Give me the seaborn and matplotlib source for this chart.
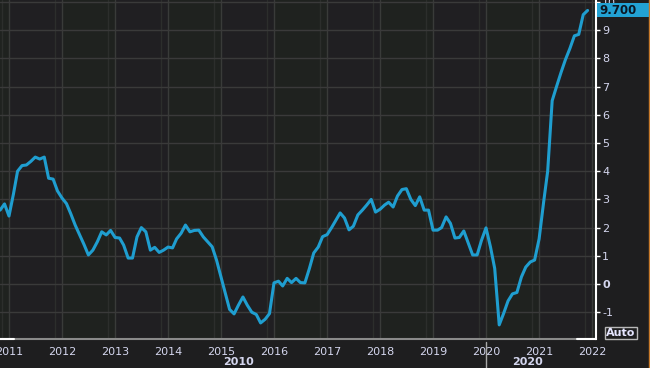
import numpy as np
import pandas as pd
import matplotlib
matplotlib.use("Agg")
import matplotlib.pyplot as plt
import matplotlib.dates as mdates
import matplotlib.transforms as mtransforms
from matplotlib.patches import Rectangle
import seaborn as sns

# ---- data (monthly, Nov 2010 - Dec 2021) ----
start_month = "2010-11-01"
values = [
    2.62, 2.84, 2.41, 3.2, 4.0, 4.2, 4.22, 4.35, 4.5, 4.43, 4.5, 3.75,
    3.72, 3.3, 3.05, 2.85, 2.5, 2.09, 1.75, 1.4, 1.03, 1.2, 1.5, 1.85,
    1.74, 1.9, 1.65, 1.63, 1.38, 0.92, 0.92, 1.67, 2.0, 1.85, 1.2, 1.3,
    1.12, 1.2, 1.31, 1.28, 1.6, 1.8, 2.09, 1.85, 1.9, 1.91, 1.67, 1.5,
    1.32, 0.85, 0.25, -0.35, -0.9, -1.06, -0.75, -0.46, -0.75, -1.0, -1.08, -1.38,
    -1.25, -1.05, 0.04, 0.1, -0.07, 0.2, 0.05, 0.2, 0.05, 0.04, 0.55, 1.1,
    1.31, 1.68, 1.75, 2.0, 2.25, 2.52, 2.34, 1.92, 2.05, 2.45, 2.62, 2.8,
    3.0, 2.55, 2.65, 2.8, 2.9, 2.73, 3.12, 3.35, 3.38, 3.0, 2.78, 3.09,
    2.62, 2.62, 1.91, 1.91, 2.0, 2.38, 2.15, 1.63, 1.65, 1.88, 1.45, 1.03,
    1.03, 1.55, 1.99, 1.31, 0.55, -1.45, -1.05, -0.6, -0.35, -0.3, 0.25, 0.6,
    0.78, 0.85, 1.6, 2.9, 4.0, 6.5, 7.0, 7.5, 7.95, 8.35, 8.8, 8.85,
    9.55, 9.7,
]
year_ticks = list(range(2011, 2023))
y_ticks = list(range(-1, 11))
decade_labels = ["2010", "2020"]

dates = pd.date_range(start_month, periods=len(values), freq="MS")
df = pd.DataFrame({"date": dates, "value": values})

# ---- style ----
sns.set_theme(style="dark")
plt.rcParams["font.family"] = ["DejaVu Sans"]

W, H = 650, 368
fig = plt.figure(figsize=(W / 100, H / 100), dpi=100)
fig.patch.set_facecolor("#1e1e1f")
ax = fig.add_axes([0, 29 / H, 596 / W, 339 / H])
ax.set_facecolor("#1f221f")

txt_col = "#d4d6ee"

# subtle alternating year bands
for yr in range(2010, 2023):
    col = "#201f22" if yr % 2 == 1 else "#1f221f"
    ax.axvspan(pd.Timestamp(f"{yr}-01-01"), pd.Timestamp(f"{yr + 1}-01-01"),
               color=col, zorder=0, lw=0)

# grid
for yr in range(2010, 2023):
    ax.axvline(pd.Timestamp(f"{yr}-01-01"), color="#393b39", lw=1.0, zorder=1)
    ax.axvline(pd.Timestamp(f"{yr - 1}-11-15"), color="#2c2e2c", lw=1.0, zorder=1)
for v in y_ticks:
    ax.axhline(v, color="#3a3a3a", lw=1.0, zorder=1)

sns.lineplot(data=df, x="date", y="value", ax=ax, color="#1f9ed0",
             lw=2.2, zorder=3, legend=False)

ax.set_xlim(pd.Timestamp("2010-10-31"), pd.Timestamp("2022-01-28"))
ax.set_ylim(-1.95, 10.07)
ax.set_xlabel("")
ax.set_ylabel("")

ax.set_xticks([pd.Timestamp(f"{y}-01-01") for y in year_ticks])
ax.xaxis.set_major_formatter(mdates.DateFormatter("%Y"))
ax.yaxis.tick_right()
ax.set_yticks(y_ticks)
ax.set_yticklabels([str(v) for v in y_ticks])
for lab in ax.get_yticklabels():
    if lab.get_text() == "0":
        lab.set_fontweight("bold")

ax.tick_params(axis="x", colors=txt_col, labelsize=8, length=2.5, width=1,
               pad=3, direction="out", color="#9a9a9a")
ax.tick_params(axis="y", colors=txt_col, labelsize=8, length=3, width=1,
               pad=1.5, direction="out", color="white", right=True, left=False)

for s in ["top", "left"]:
    ax.spines[s].set_visible(False)
ax.spines["right"].set_color("white")
ax.spines["right"].set_linewidth(1.5)
ax.spines["bottom"].set_color("#8a8a8a")
ax.spines["bottom"].set_linewidth(1.5)
ax.spines["right"].set_zorder(5)

# white end segments of the bottom axis
ax.plot([0, 14 / 596], [0, 0], transform=ax.transAxes, color="white",
        lw=1.5, clip_on=False, zorder=6)
ax.plot([577 / 596, 1], [0, 0], transform=ax.transAxes, color="white",
        lw=1.5, clip_on=False, zorder=6)

blend = mtransforms.blended_transform_factory(ax.transData, ax.transAxes)
# decade labels and separator
ax.text(pd.Timestamp("2015-05-01"), -29 / 339 + 6 / 339, decade_labels[0],
        transform=blend, ha="center", va="center", fontsize=8,
        fontweight="bold", color=txt_col)
ax.text(pd.Timestamp("2020-10-10"), -29 / 339 + 6 / 339, decade_labels[1],
        transform=blend, ha="center", va="center", fontsize=8,
        fontweight="bold", color=txt_col)
ax.plot([pd.Timestamp("2020-01-01")] * 2, [-3 / 339, -29 / 339],
        transform=blend, color="#a8a8a8", lw=1, clip_on=False)

# last value label
last = values[-1]
blend_y = mtransforms.blended_transform_factory(ax.transAxes, ax.transData)
ax.add_patch(Rectangle((1.0 + 1 / 596, last - 0.25), 54 / 596, 0.5,
                       transform=blend_y, facecolor="#22a2d4",
                       edgecolor="none", clip_on=False, zorder=7))
ax.text(1.0 + 3 / 596, last, f"{last:.3f}", transform=blend_y, ha="left",
        va="center", fontsize=8.5, fontweight="bold", color="#0b1622",
        clip_on=False, zorder=8)

# Auto button
fig.text(606 / W, 1 - 333 / H, "Auto", ha="left", va="center", fontsize=8,
         fontweight="bold", color="#e6e6ff",
         bbox=dict(boxstyle="square,pad=0.12", facecolor="none",
                   edgecolor="#b8b8b8", lw=1))

# orange right edge
fig.add_artist(plt.Line2D([648.5 / W, 648.5 / W], [0, 1], color="#c87a2a",
                          lw=1, transform=fig.transFigure))

fig.savefig("out.png", dpi=100, facecolor=fig.get_facecolor())
